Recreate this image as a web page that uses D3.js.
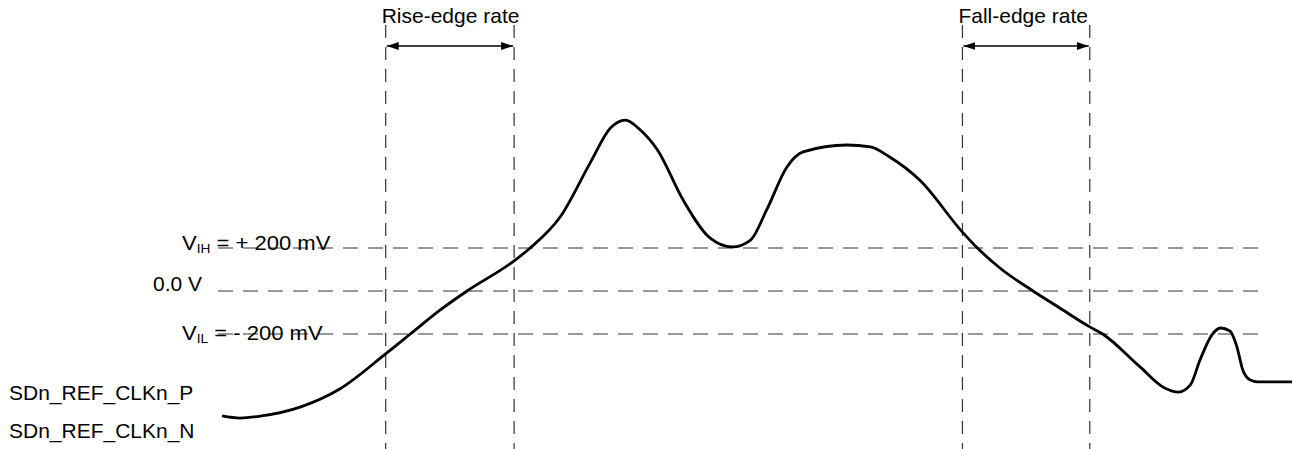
<!DOCTYPE html>
<html>
<head>
<meta charset="utf-8">
<script src="https://cdn.jsdelivr.net/npm/d3@7/dist/d3.min.js"></script>
<style>
  body { margin: 0; background: #fff; }
  svg text { font-family: "Liberation Sans", Arial, Helvetica, sans-serif; fill: #000; }
</style>
</head>
<body>
<div id="chart"></div>
<script>
// signal trace: time (arbitrary units) and voltage (mV)
const signal_time = [0, 1.7, 3.7, 7.3, 11.0, 15.4, 17.6, 20.4, 22.9, 27.3, 28.8, 31.6, 34.4,
  36.3, 37.7, 39.1, 40.7, 43.1, 45.6, 47.7, 49.4, 50.9, 52.8, 54.3, 58.4, 60.6, 62.4, 65.2, 69.2,
  70.6, 72.7, 75.8, 78.3, 81.1, 82.3, 85.8, 88.1, 89.4, 90.5, 91.4, 92.5, 93.3, 94.2,
  94.8, 95.4, 96.1, 96.8, 100];
const signal_mv = [-581, -591, -581, -540, -456, -288, -200, -88, 0, 140, 200, 344, 595,
  758, 795, 749, 656, 423, 247, 205, 237, 377, 577, 647, 679, 670, 623, 516, 274,
  200, 107, 0, -79, -167, -200, -353, -451, -470, -437, -321, -205, -172, -186,
  -251, -367, -414, -423, -423];

// threshold levels (mV)
const level_values = [200, 0, -200];
const level_names = [["V", "IH", " = + 200 mV"], ["0.0 V", "", ""], ["V", "IL", " = - 200 mV"]];

// edge rate measurement windows (time units)
const edge_windows = [[15.3, 27.3], [69.2, 81.1]];
const edge_names = ["Rise-edge rate", "Fall-edge rate"];

const signal_names = ["SDn_REF_CLKn_P", "SDn_REF_CLKn_N"];

const width = 1294, height = 449;
const x = d3.scaleLinear().domain([0, 100]).range([222, 1292]);
const y = d3.scaleLinear().domain([0, 200]).range([291, 248]);

const svg = d3.select("#chart").append("svg")
  .attr("width", width)
  .attr("height", height);

svg.append("defs").selectAll("marker")
  .data(["arrow_start", "arrow_end"])
  .enter().append("marker")
  .attr("id", (d) => d)
  .attr("viewBox", "0 0 12 8")
  .attr("refX", (d) => d == "arrow_end" ? 12 : 0)
  .attr("refY", 4)
  .attr("markerWidth", 12)
  .attr("markerHeight", 8)
  .attr("markerUnits", "userSpaceOnUse")
  .attr("orient", "auto")
  .append("path")
  .attr("d", (d) => d == "arrow_end" ? "M0,0 L12,4 L0,8 Z" : "M12,0 L0,4 L12,8 Z")
  .attr("fill", "#000");

const stretch = 1.05; // glyphs in the reference are a little wider than tall
function add_text(parent, tx, ty, size) {
  return parent.append("text")
    .attr("transform", "translate(" + tx + "," + ty + ") scale(" + stretch + ",1)")
    .style("font-size", size + "px");
}

// vertical dashed markers
const edges = edge_windows.flat();
svg.selectAll(".vline").data(edges).enter()
  .append("line")
  .attr("class", "vline")
  .attr("x1", (d) => x(d)).attr("x2", (d) => x(d))
  .attr("y1", 25).attr("y2", height)
  .attr("stroke", "#333").attr("stroke-width", 1.2)
  .attr("stroke-dasharray", "13,9");

// horizontal dashed levels
svg.selectAll(".hline").data(level_values).enter()
  .append("line")
  .attr("class", "hline")
  .attr("x1", 218).attr("x2", 1258)
  .attr("y1", (d) => y(d)).attr("y2", (d) => y(d))
  .attr("stroke", "#333").attr("stroke-width", 1.2)
  .attr("stroke-dasharray", "15,10");

// level labels
level_values.forEach((v, i) => {
  let name = level_names[i];
  let tx = name[1] ? 182 : 153;
  let t = add_text(svg, tx, y(v) + (i == 0 ? 2 : (i == 2 ? 6 : 0)), name[1] ? 21 : 20);
  t.append("tspan").text(name[0]);
  if (name[1]) {
    t.append("tspan").attr("dy", 3).style("font-size", "13px").text(name[1]);
    t.append("tspan").attr("dy", -3).text(name[2]);
  }
});

// edge windows with arrows and names
edge_windows.forEach((w, i) => {
  svg.append("line")
    .attr("x1", x(w[0]) + 1).attr("x2", x(w[1]) - 1)
    .attr("y1", 46).attr("y2", 46)
    .attr("stroke", "#000").attr("stroke-width", 1.3)
    .attr("marker-start", "url(#arrow_start)")
    .attr("marker-end", "url(#arrow_end)");
  add_text(svg, x(w[0]) - 4, 23, 20).text(edge_names[i]);
});

// signal names
signal_names.forEach((s, i) => {
  add_text(svg, 9, 400 + i * 38, 20).text(s);
});

// trace
const points = signal_time.map((t, i) => [t, signal_mv[i]]);
svg.append("path")
  .datum(points)
  .attr("d", d3.line().x((d) => x(d[0])).y((d) => y(d[1])).curve(d3.curveMonotoneX))
  .attr("fill", "none")
  .attr("stroke", "#000")
  .attr("stroke-width", 2.8);
</script>
</body>
</html>
